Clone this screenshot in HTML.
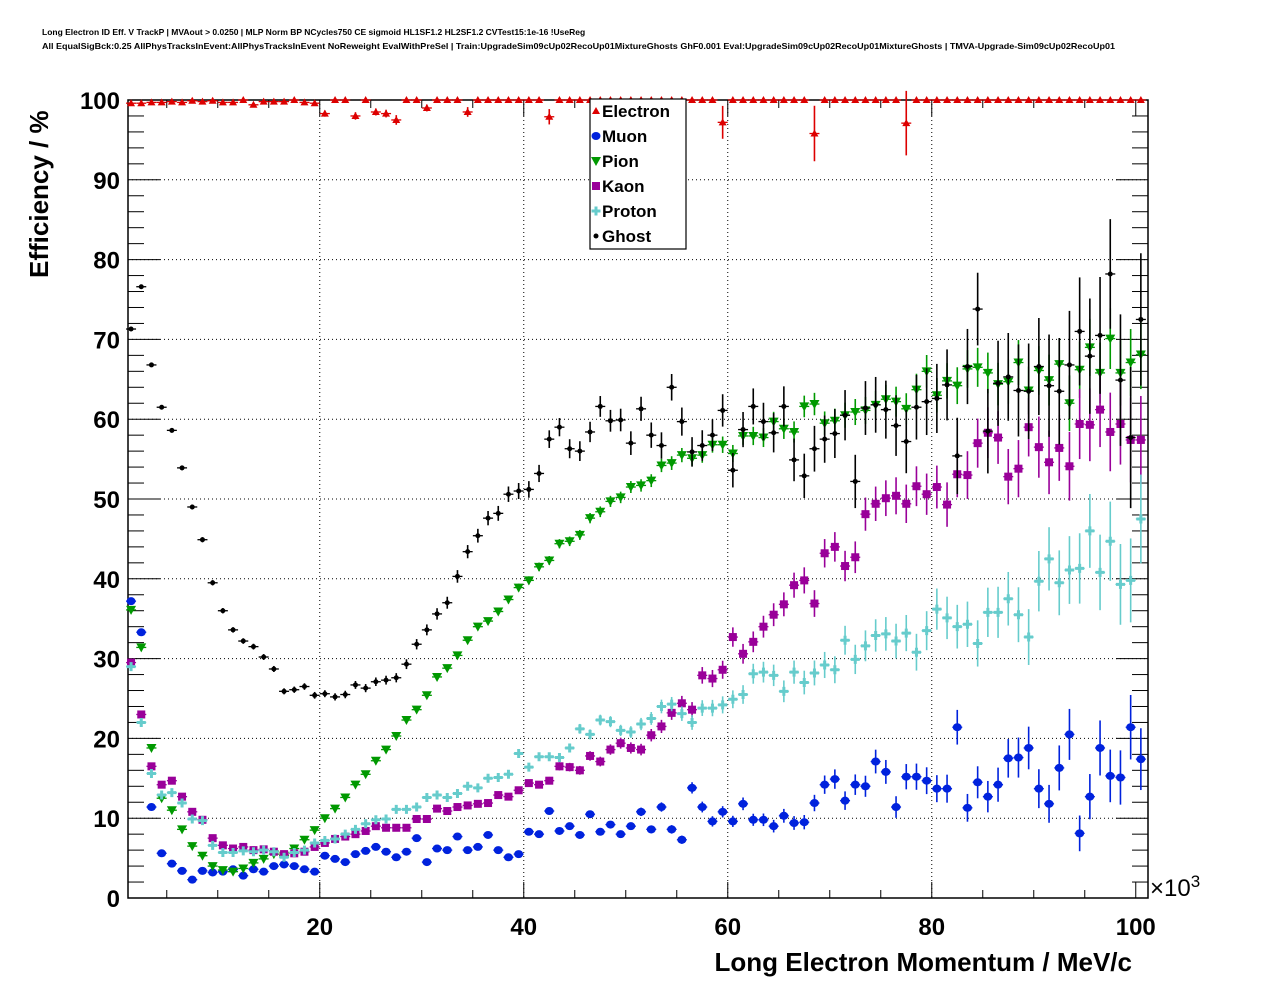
<!DOCTYPE html>
<html><head><meta charset="utf-8"><style>
body{margin:0;background:#fff;}
svg{display:block;font-family:"Liberation Sans",Arial,sans-serif;}
</style></head><body>
<svg id="chart" width="1276" height="996" xmlns="http://www.w3.org/2000/svg">
<rect width="1276" height="996" fill="#fff"/>
<text x="42" y="35" font-size="8.5" font-weight="bold">Long Electron ID Eff. V TrackP | MVAout &gt; 0.0250 | MLP Norm BP NCycles750 CE sigmoid HL1SF1.2 HL2SF1.2 CVTest15:1e-16 !UseReg</text>
<text x="42" y="49" font-size="8.5" font-weight="bold" textLength="1073" lengthAdjust="spacingAndGlyphs">All EqualSigBck:0.25 AllPhysTracksInEvent:AllPhysTracksInEvent NoReweight EvalWithPreSel | Train:UpgradeSim09cUp02RecoUp01MixtureGhosts GhF0.001 Eval:UpgradeSim09cUp02RecoUp01MixtureGhosts | TMVA-Upgrade-Sim09cUp02RecoUp01</text>
<g id="grid"></g>
<g id="axes"></g>
<g id="marks"></g>
<text x="1132" y="971" font-size="26" font-weight="bold" text-anchor="end">Long Electron Momentum / MeV/c</text>
<text transform="translate(48,278) rotate(-90)" font-size="26" font-weight="bold">Efficiency / %</text>
<text x="1150" y="896" font-size="24">×10<tspan font-size="17" dy="-9">3</tspan></text>
<g id="legend"></g>
</svg>
<script>
const series = ["Electron","Muon","Pion","Kaon","Proton","Ghost"];
const xTicks = [20,40,60,80,100];
const yTicks = [0,10,20,30,40,50,60,70,80,90,100];
const electron = [99.6,99.6,99.7,99.7,99.8,99.7,99.9,99.8,99.9,99.7,99.7,100,99.4,99.8,99.8,99.8,100,99.7,99.6,98.3,100,100,98,100,98.5,98.3,97.5,100,100,99,100,100,100,98.5,100,100,100,100,100,100,100,97.9,100,100,100,100,100,100,100,100,100,100,100,100,100,100,100,100,97.2,100,100,100,100,100,100,100,100,95.8,100,100,100,100,100,100,100,100,97.1,100,100,100,100,100,100,100,100,100,100,100,100,100,100,100,100,100,100,100,100,100,100,100];
const muon = [37.2,33.3,11.4,5.6,4.3,3.4,2.3,3.4,3.2,3.3,3.6,2.8,3.6,3.3,4,4.2,4,3.6,3.3,5.3,4.9,4.5,5.5,5.9,6.4,5.8,5.1,5.8,7.5,4.5,6.2,6,7.7,6,6.4,7.9,6,5.1,5.5,8.3,8,10.9,8.4,9,7.9,10.5,8.3,9.2,8,9,10.8,8.6,11.4,8.6,7.3,13.8,11.4,9.6,10.8,9.6,11.8,9.8,9.8,9,10.3,9.4,9.5,11.9,14.2,14.9,12.2,14.2,14,17.1,15.8,11.4,15.2,15.2,14.7,13.7,13.7,21.4,11.3,14.5,12.7,14.2,17.5,17.6,18.8,13.7,11.8,16.3,20.5,8.1,12.7,18.8,15.3,15.1,21.4,17.4];
const pion = [36.1,31.4,18.8,12.5,11,8.6,6.5,5.3,4,3.5,3.3,3.7,4.4,4.9,5.5,5.3,6.2,7.3,8.5,10,11.2,12.6,14.2,15.5,17.2,18.6,20.3,22.3,23.6,25.4,27.7,28.8,30.4,32.3,34,34.7,35.9,37.4,38.9,39.8,41.5,42.3,44.4,44.7,45.5,47.6,48.4,49.7,50.2,51.5,51.7,52.3,54.2,54.5,55.5,55.1,55.5,56.8,56.8,55.7,57.9,57.9,57.7,59.7,58.8,58.4,61.6,61.9,59.5,59.8,60.5,60.9,61.1,61.8,62.5,62.2,61.3,63.7,66,63,64.8,64.2,66.3,66.5,65.8,64.4,64.7,67.1,63.6,66.1,64.9,66.9,62,66.2,69,65.8,70.1,65.8,67.1,68.1];
const kaon = [29.5,23,16.5,14.2,14.7,12.7,10.8,9.8,7.5,6.6,6.2,6.4,6,6.1,5.8,5.5,5.6,5.8,6.4,6.9,7.4,7.7,8,8.4,9,8.8,8.8,8.8,9.9,9.9,11.2,10.9,11.4,11.6,11.8,11.9,12.9,12.7,13.5,14.4,14.2,14.7,16.5,16.4,16,17.8,17.1,18.6,19.4,18.8,18.6,20.4,21.5,23.2,24.4,23.6,27.9,27.5,28.6,32.7,30.6,32.1,34,35.5,36.8,39.2,39.8,36.9,43.2,44,41.6,42.7,48.1,49.4,50.1,50.4,49.4,51.6,50.6,51.5,49.3,53.1,53,57,58.3,57.7,52.8,53.8,59,56.5,54.6,56.4,54.1,59.4,59.3,61.2,58.4,59.4,57.4,57.4];
const proton = [29,22,15.6,12.9,13.2,11.9,9.9,9.7,6.6,5.7,5.7,5.9,5.8,6,5.8,5.1,5.7,6,6.9,7.2,7.4,8,8.6,9.3,9.8,9.9,11.1,11.1,11.4,12.6,12.9,12.6,13.1,14,13.8,15,15.1,15.5,18.1,16.4,17.7,17.7,17.6,18.8,21.2,20.5,22.3,22.1,21,20.8,21.8,22.5,24,24.3,23.1,22,23.8,23.8,24.2,24.9,25.5,28.1,28.3,27.9,25.9,28.3,27,28.2,29.2,28.6,32.3,29.9,31.6,32.9,33.1,32.2,33.2,30.8,33.5,36.2,35.1,34,34.3,31.9,35.8,35.8,37.5,35.5,32.7,39.7,42.5,39.5,41.1,41.3,46,40.8,44.7,39.3,39.8,47.5];
const ghost = [71.3,76.6,66.8,61.5,58.6,53.9,49,44.9,39.5,36,33.6,32.2,31.5,30.2,28.7,25.9,26.1,26.5,25.4,25.6,25.2,25.5,26.7,26.3,27.1,27.3,27.6,29.3,31.8,33.6,35.6,37,40.3,43.4,45.4,47.6,48.2,50.6,51,51.2,53.2,57.5,59,56.3,56,58.4,61.6,59.8,59.9,57,61.3,58,56.7,64,59.7,55.9,56.7,58,61.1,53.6,58.7,61.6,59.7,58.3,61.6,54.9,52.9,56.3,57.5,58.2,60.5,52.2,61.4,61.8,61.2,59.2,57.2,61.5,62.2,62.6,64.3,55.4,66.6,73.8,58.5,64.5,65.3,63.6,63.5,66.6,64.2,63.5,66.8,71,67.9,70.5,78.2,64.9,57.7,72.5];

const NS="http://www.w3.org/2000/svg";
const L=128,R=1148,T=100,B=898;
const XMIN=1.2,XMAX=101.2;
const X=v=>L+(v-XMIN)/(XMAX-XMIN)*(R-L);
const Y=v=>B-v/100*(B-T);
const binCenter=i=>1.5+i;
function mk(tag,attrs,parent){const e=document.createElementNS(NS,tag);for(const k in attrs)e.setAttribute(k,attrs[k]);parent.appendChild(e);return e;}
const grid=document.getElementById('grid'),axes=document.getElementById('axes'),marks=document.getElementById('marks'),leg=document.getElementById('legend');
yTicks.forEach(t=>{if(t>0&&t<100){const l=mk('line',{x1:L,x2:R,y1:Y(t),y2:Y(t),stroke:'#000','stroke-width':1,'stroke-dasharray':'1,3'},grid);

}});
xTicks.forEach(t=>{if(t<100){const l=mk('line',{x1:X(t),x2:X(t),y1:T,y2:B,stroke:'#000','stroke-width':1,'stroke-dasharray':'1,3'},grid);

}});
const fr=mk('rect',{x:L,y:T,width:R-L,height:B-T,fill:'none',stroke:'#000','stroke-width':1.5},axes);


for(let v=0;v<=100;v+=2){const maj=v%10===0,len=maj?32:16;
mk('line',{x1:L,x2:L+len,y1:Y(v),y2:Y(v),stroke:'#000'},axes);
mk('line',{x1:R,x2:R-len,y1:Y(v),y2:Y(v),stroke:'#000'},axes);}
yTicks.forEach(t=>{const tx=mk('text',{x:120,y:Y(t)+9,'font-size':24,'font-weight':'bold','text-anchor':'end'},axes);tx.textContent=t;

});
for(let v=5;v<=100;v+=5){const maj=v%20===0,len=maj?16:8;
mk('line',{x1:X(v),x2:X(v),y1:B,y2:B-len,stroke:'#000'},axes);
mk('line',{x1:X(v),x2:X(v),y1:T,y2:T+len,stroke:'#000'},axes);}
xTicks.forEach(t=>{const tx=mk('text',{x:X(t),y:935,'font-size':24,'font-weight':'bold','text-anchor':'middle'},axes);tx.textContent=t;

});
const cfg=[
 {d:electron,c:'#dd0000',m:'tri',k:6,f:0},
 {d:muon,c:'#0022dd',m:'circ',k:1.1,f:40},
 {d:pion,c:'#009900',m:'tridown',k:1,f:40},
 {d:kaon,c:'#990099',m:'sq',k:1.2,f:40},
 {d:proton,c:'#66cccc',m:'cross',k:1.2,f:40},
 {d:ghost,c:'#000000',m:'dot',k:2,f:40}];
function marker(m,x,y,c,p){
 if(m==='tri')return mk('polygon',{points:`${x-4},${y+3} ${x+4},${y+3} ${x},${y-4}`,fill:c},p);
 if(m==='tridown')return mk('polygon',{points:`${x-5},${y-4} ${x+5},${y-4} ${x},${y+5}`,fill:c},p);
 if(m==='circ')return mk('ellipse',{cx:x,cy:y,rx:4.5,ry:4,fill:c},p);
 if(m==='sq')return mk('rect',{x:x-4,y:y-4,width:8,height:8,fill:c},p);
 if(m==='cross')return mk('path',{d:`M${x-4.5},${y-1.5}h3v-3h3v3h3v3h-3v3h-3v-3h-3z`,fill:c},p);
 return mk('circle',{cx:x,cy:y,r:2.5,fill:c},p);}
cfg.forEach((s,si)=>{
 const g=mk('g',{},marks);
 
 
 s.d.forEach((v,i)=>{
  const xc=binCenter(i),x=X(xc),y=Y(v);
  const n=9600*Math.exp(-(xc-40)/13.7);
  const err=s.k*Math.sqrt(Math.max(v*(100-v),s.f)/n);
  const ey=err*(B-T)/100;
  mk('line',{x1:x-5,x2:x+5,y1:y,y2:y,stroke:s.c,'stroke-width':1.3},g);
  if(ey>2)mk('line',{x1:x,x2:x,y1:y-ey,y2:Math.min(y+ey,Y(0)),stroke:s.c,'stroke-width':1.6},g);
  const mm=marker(s.m,x,y,s.c,g);
  
  
 });
});
const lb=mk('rect',{x:590,y:99,width:96,height:150,fill:'#fff',stroke:'#000','stroke-width':1.2},leg);


series.forEach((n,i)=>{
 const y=111+i*25;
 const g=mk('g',{},leg);
 
 
 marker(cfg[i].m,596,y,cfg[i].c,g);
 const t=mk('text',{x:602,y:y+6,'font-size':17,'font-weight':'bold'},g);t.textContent=n;
});
</script>
</body></html>
